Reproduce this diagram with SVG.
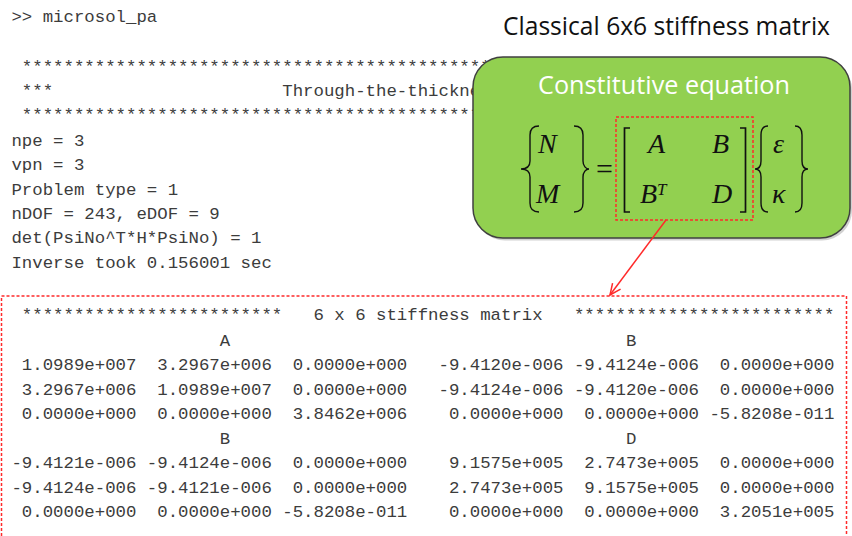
<svg xmlns="http://www.w3.org/2000/svg" width="852" height="536" viewBox="0 0 852 536">
<defs>
<style>
.mono{font-family:"Liberation Mono","Courier New",monospace;font-size:17.37px;fill:#3c3c3c;white-space:pre}
.title{font-family:"Open Sans","Liberation Sans",sans-serif;font-size:25px;fill:#111}
.sub{font-family:"Open Sans","Liberation Sans",sans-serif;font-size:25px;fill:#fff}
.math{font-family:"Liberation Serif","Times New Roman",serif;font-style:italic;font-size:28px;fill:#111}
.eq{font-family:"Liberation Serif","Times New Roman",serif;font-size:30px;fill:#111}
.dash{fill:none;stroke:#ff2a2a;stroke-width:1.5;stroke-dasharray:3 2}
.delim{fill:none;stroke:#111;stroke-width:1.4}
.brk{fill:none;stroke:#111;stroke-width:1.7}
</style>
<marker id="arrow" markerUnits="userSpaceOnUse" markerWidth="14" markerHeight="12" refX="12" refY="6" orient="auto"><path d="M1,1 L12,6 L1,11" fill="none" stroke="#ff2a2a" stroke-width="1.5"/></marker>
</defs>
<rect width="852" height="536" fill="#fff"/>

<g id="console-log">
<text class="mono" x="1" y="22"> &gt;&gt; microsol_pa</text>
<text class="mono" x="1" y="72">  **************************************************</text>
<text class="mono" x="1" y="96">  ***                      Through-the-thickness</text>
<text class="mono" x="1" y="120">  **************************************************</text>
<text class="mono" x="1" y="146"> npe = 3</text>
<text class="mono" x="1" y="170"> vpn = 3</text>
<text class="mono" x="1" y="194.5"> Problem type = 1</text>
<text class="mono" x="1" y="218.5"> nDOF = 243, eDOF = 9</text>
<text class="mono" x="1" y="243"> det(PsiNo^T*H*PsiNo) = 1</text>
<text class="mono" x="1" y="267.5"> Inverse took 0.156001 sec</text>
</g>

<g id="title">
<text class="title" x="503" y="35" textLength="327" lengthAdjust="spacingAndGlyphs">Classical 6x6 stiffness matrix</text>
</g>

<g id="constitutive-equation">
<rect x="475" y="59.5" width="377" height="181" rx="30" fill="#000" opacity="0.18"/>
<rect x="473" y="57" width="377" height="181" rx="30" fill="#92d050" stroke="#404040" stroke-width="1.5"/>
<text class="sub" x="538" y="93.5" textLength="252" lengthAdjust="spacingAndGlyphs">Constitutive equation</text>
<path class="delim" d="M539,126 C533,126 530,129 530,135 L530,161 C530,166 527,169 521,169 C527,169 530,172 530,177 L530,203 C530,209 533,212 539,212"/>
<path class="delim" d="M574,126 C580,126 583,129 583,135 L583,161 C583,166 586,169 589,169 C586,169 583,172 583,177 L583,203 C583,209 580,212 574,212"/>
<text class="math" x="538" y="153">N</text>
<text class="math" x="536" y="203">M</text>
<text class="eq" x="596" y="179">=</text>
<path class="brk" d="M630,128 L624.5,128 L624.5,212 L630,212"/>
<path class="brk" d="M740,128 L745.5,128 L745.5,212 L740,212"/>
<text class="math" x="648" y="153">A</text>
<text class="math" x="712" y="153">B</text>
<text class="math" x="640" y="203">B</text>
<text class="math" x="657" y="195" style="font-size:17px">T</text>
<text class="math" x="712" y="203">D</text>
<path class="delim" d="M768,126 C763,126 761,129 761,135 L761,161 C761,166 759,169 755,169 C759,169 761,172 761,177 L761,203 C761,209 763,212 768,212"/>
<path class="delim" d="M795,126 C800,126 802,129 802,135 L802,161 C802,166 804,169 808,169 C804,169 802,172 802,177 L802,203 C802,209 800,212 795,212"/>
<text class="math" x="773" y="153">ε</text>
<text class="math" x="772" y="203">κ</text>
<rect id="matrix-highlight" class="dash" x="616" y="117" width="137" height="103"/>
</g>

<g id="stiffness-output">
<rect class="dash" x="1.5" y="296" width="845" height="260"/>
<text class="mono" x="1" y="320">  *************************   6 x 6 stiffness matrix   *************************</text>
<text class="mono" x="1" y="345.5">                     A                                      B</text>
<text class="mono" x="1" y="370">  1.0989e+007  3.2967e+006  0.0000e+000   -9.4120e-006 -9.4124e-006  0.0000e+000</text>
<text class="mono" x="1" y="394.5">  3.2967e+006  1.0989e+007  0.0000e+000   -9.4124e-006 -9.4120e-006  0.0000e+000</text>
<text class="mono" x="1" y="419">  0.0000e+000  0.0000e+000  3.8462e+006    0.0000e+000  0.0000e+000 -5.8208e-011</text>
<text class="mono" x="1" y="443.5">                     B                                      D</text>
<text class="mono" x="1" y="468"> -9.4121e-006 -9.4124e-006  0.0000e+000    9.1575e+005  2.7473e+005  0.0000e+000</text>
<text class="mono" x="1" y="492.5"> -9.4124e-006 -9.4121e-006  0.0000e+000    2.7473e+005  9.1575e+005  0.0000e+000</text>
<text class="mono" x="1" y="517">  0.0000e+000  0.0000e+000 -5.8208e-011    0.0000e+000  0.0000e+000  3.2051e+005</text>
</g>

<g id="connectors">
<line x1="666" y1="220" x2="610" y2="295" stroke="#ff2a2a" stroke-width="1.5" marker-end="url(#arrow)"/>
</g>
</svg>
